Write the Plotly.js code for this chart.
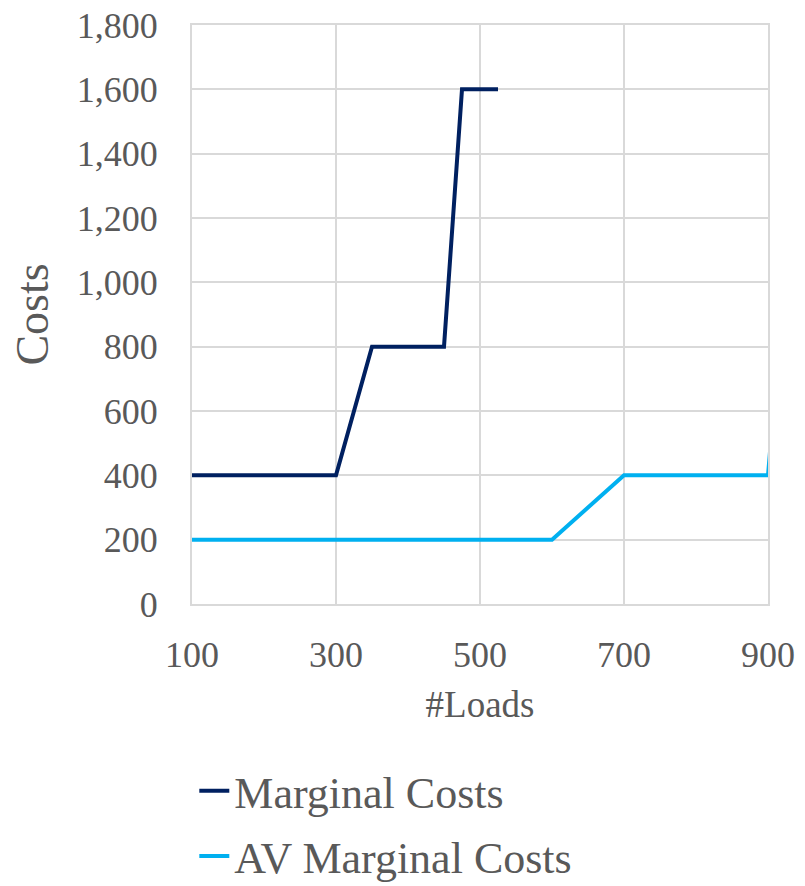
<!DOCTYPE html>
<html>
<head>
<meta charset="utf-8">
<script src="https://cdn.plot.ly/plotly-3.0.1.min.js"></script>
<style>html,body{margin:0;padding:0;background:#fff;}#chart{width:805px;height:886px;}</style>
</head>
<body>
<div id="chart"></div>
<script>
const marginalLoads = [100, 300, 350, 450, 475, 525];
const marginalCosts = [400, 400, 800, 800, 1600, 1600];
const avLoads = [100, 600, 700, 900, 915];
const avCosts = [200, 200, 400, 400, 800];
const seriesNames = ["Marginal Costs", "AV Marginal Costs"];

const FONT = "'Liberation Serif', 'DejaVu Serif', serif";
const TXT = "#595959";
const GRID = "#d9d9d9";

const traces = [
  {x: marginalLoads, y: marginalCosts, name: seriesNames[0], mode: "lines", legendgroup: "g1",
   line: {color: "#002060", width: 4}},
  {x: avLoads, y: avCosts, name: seriesNames[1], mode: "lines", legendgroup: "g2",
   line: {color: "#00b0f0", width: 4}}
];

const layout = {
  width: 805, height: 886,
  margin: {l: 192, r: 37, t: 25, b: 282, autoexpand: false},
  paper_bgcolor: "#fff", plot_bgcolor: "#fff",
  font: {family: FONT, color: TXT, size: 36},
  showlegend: true,
  legend: {x: 0.004, xanchor: "left", y: -0.262, yanchor: "top", traceorder: "grouped",
           font: {size: 44, color: TXT, family: FONT}, tracegroupgap: 5},
  xaxis: {range: [100, 900], tick0: 100, dtick: 200, showgrid: true, gridcolor: GRID, gridwidth: 2,
          zeroline: false, showline: true, linecolor: GRID, linewidth: 2, mirror: true,
          ticks: "", tickangle: 0, ticklabelstandoff: 18, tickfont: {size: 36},
          title: {text: "#Loads", font: {size: 37}, standoff: 17}},
  yaxis: {range: [0, 1800], dtick: 200, tickformat: ",", showgrid: true, gridcolor: GRID, gridwidth: 2,
          zeroline: false, showline: true, linecolor: GRID, linewidth: 2, mirror: true,
          ticks: "", ticklabelstandoff: 25, tickfont: {size: 36},
          title: {text: "Costs", font: {size: 46}, standoff: 14}}
};

Plotly.newPlot("chart", traces, layout, {displayModeBar: false, staticPlot: true});
</script>
</body>
</html>
